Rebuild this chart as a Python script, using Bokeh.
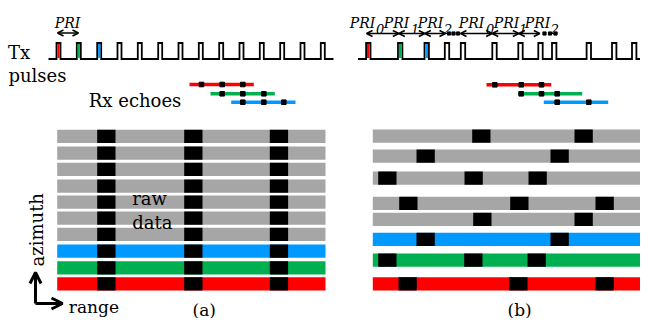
from bokeh.plotting import figure
from bokeh.models import Range1d, Arrow, OpenHead, ColumnDataSource
from bokeh.embed import file_html
from bokeh.resources import INLINE
from bokeh.core.properties import value

RED, GREEN, BLUE, GRAY = "#FF0000", "#00B050", "#0099FF", "#A6A6A6"
FONT = "DejaVu Serif"

# ---------------- data (diagram geometry, reference pixel units) ----------------
# Tx pulse trains
a_pulse_x = [58, 78.3, 98.7, 119, 139.3, 159.7, 180, 200.3, 220.7, 241, 261.3, 281.7, 302, 322.3]
a_pulse_colors = [RED, GREEN, BLUE]
a_train_span = [48, 333]
b_pulse_x = [367.8, 399.7, 426.2, 446.5, 462.5, 494, 520, 540, 553.7, 588.3, 613.7, 633.7, 650.5]
b_pulse_colors = [RED, GREEN, BLUE]
b_train_span = [357.5, 660]
pulse_top, pulse_base = 42.5, 58.5

# PRI arrows
a_pri_arrow = [(57, 78)]
b_pri_arrows = [(366, 398.3), (398.3, 424.3), (424.3, 445), (460, 491.7), (491.7, 518.3), (518.3, 539.3)]
b_pri_dots = [448.5, 453, 457.5, 544, 549.5, 555]
b_pri_label_x = [349.3, 383.3, 417.3, 458.3, 493.3, 524.3]
b_pri_sub = ["0", "1", "2", "0", "1", "2"]
b_pri_sub_x = [375.5, 410.5, 443.5, 485.5, 518.5, 550.3]

# Rx echoes
a_echo_lines = {"x0": [189, 210, 230.7], "x1": [253.3, 274.3, 295], "y": [84, 93.3, 101.7]}
a_echo_dots = [[201, 221.7, 242.3], [221.7, 242.3, 263.3], [242.3, 263.3, 283.3]]
b_echo_lines = {"x0": [486, 517.7, 543.3], "x1": [550.7, 581.7, 607.7], "y": [84.3, 93.3, 101.7]}
b_echo_dots = [[494.3, 520.7, 541], [520.7, 541, 556.7], [556.7, 588.3]]
echo_colors = [RED, GREEN, BLUE]

# raw data rows
row_h = 13.3
blk_w = 18.3
a_rows_top = [129.3, 146, 162.3, 179, 195, 211, 227.3, 244, 260.7, 276.7]
a_rows_color = [GRAY] * 7 + [BLUE, GREEN, RED]
a_rows_span = [56.7, 325]
a_blocks = [96.7, 183.7, 269.3]

b_rows_top = [129, 149, 171, 196.3, 212.3, 232.3, 253, 276.7]
b_rows_color = [GRAY] * 5 + [BLUE, GREEN, RED]
b_rows_span = [372.3, 641.7]
b_blocks = [[471.7, 574], [416, 550], [377.7, 464, 528], [398.7, 509.7, 595],
            [472.7, 574], [416, 550], [377.7, 463.7, 527], [398, 508.7, 595]]

panel_labels = ["(a)", "(b)"]
panel_label_x = [192, 507]

# ---------------- figure ----------------
p = figure(width=640, height=318, x_range=Range1d(0, 640), y_range=Range1d(318, 0),
           output_backend="svg", toolbar_location=None, min_border=0,
           x_axis_location=None, y_axis_location=None)
p.grid.visible = False
p.outline_line_color = None
p.background_fill_color = "white"


def pulse_train(centers, colors, span, w=2.0):
    xs, ys = [span[0]], [pulse_base]
    for c in centers:
        xs += [c - w, c - w, c + w, c + w]
        ys += [pulse_base, pulse_top, pulse_top, pulse_base]
    xs.append(span[1]); ys.append(pulse_base)
    n = len(colors)
    p.line(xs, ys, line_color="black", line_width=1.8, line_join="miter")
    p.quad(left=[c - w + 0.9 for c in centers[:n]], right=[c + w - 0.9 for c in centers[:n]],
           top=[pulse_top + 0.9] * n, bottom=[pulse_base - 0.9] * n, fill_color=colors, line_color=None)


pulse_train(a_pulse_x, a_pulse_colors, a_train_span)
pulse_train(b_pulse_x, b_pulse_colors, b_train_span, w=2.2)


def arrows(pairs, y):
    src = ColumnDataSource(dict(x0=[a for a, b in pairs], x1=[b for a, b in pairs], y=[y] * len(pairs)))
    p.add_layout(Arrow(start=OpenHead(size=6, line_width=1.5), end=OpenHead(size=6, line_width=1.5),
                       x_start="x0", y_start="y", x_end="x1", y_end="y",
                       line_width=1.5, source=src))


arrows(a_pri_arrow, 32.5)
arrows(b_pri_arrows, 33)
p.scatter(b_pri_dots, [33] * len(b_pri_dots), marker="square", size=3.2, color="black")

p.text(x=[54.3], y=[22.7], text=["PRI"], text_font=value(FONT), text_font_style="italic",
       text_font_size="14px", text_baseline="alphabetic", text_align="left")
p.text(x=b_pri_label_x, y=[22] * 6, text=["PRI"] * 6, text_font=value(FONT), text_font_style="italic",
       text_font_size="14px", text_baseline="alphabetic", text_align="left")
p.text(x=b_pri_sub_x, y=[28.5] * 6, text=b_pri_sub, text_font=value(FONT), text_font_style="italic",
       text_font_size="13px", text_baseline="alphabetic", text_align="left")

# Rx echoes
for lines, dots in ((a_echo_lines, a_echo_dots), (b_echo_lines, b_echo_dots)):
    p.segment(x0=lines["x0"], x1=lines["x1"], y0=lines["y"], y1=lines["y"],
              line_color=echo_colors, line_width=3.6)
    for d, y in zip(dots, lines["y"]):
        p.scatter(d, [y] * len(d), marker="square", size=4.6, color="black")

# raw data rows
for tops, cols, span, blocks in ((a_rows_top, a_rows_color, a_rows_span, [a_blocks] * len(a_rows_top)),
                                 (b_rows_top, b_rows_color, b_rows_span, b_blocks)):
    p.quad(left=[span[0]] * len(tops), right=[span[1]] * len(tops), top=tops,
           bottom=[t + row_h for t in tops], fill_color=cols, line_color=None)
    bl, bt = [], []
    for t, bs in zip(tops, blocks):
        for b in bs:
            bl.append(b); bt.append(t)
    p.quad(left=bl, right=[b + blk_w for b in bl], top=bt, bottom=[t + row_h for t in bt],
           fill_color="black", line_color=None)

# labels
txt = dict(text_font=value(FONT), text_baseline="alphabetic", text_align="left", text_color="black")
p.text(x=[7.5], y=[51.5], text=["Tx"], text_font_size="18px", **txt)
p.text(x=[8], y=[74.5], text=["pulses"], text_font_size="18px", **txt)
p.text(x=[88.3], y=[100], text=["Rx echoes"], text_font_size="18px", **txt)
p.text(x=[131.7, 131.7], y=[198.3, 221.5], text=["raw", "data"], text_font_size="18px", **txt)
p.text(x=[68.3], y=[306], text=["range"], text_font_size="17px", **txt)
p.text(x=[36.5], y=[266], text=["azimuth"], angle=[1.5708], text_font_size="18px",
       text_font=value(FONT), text_baseline="middle", text_align="left", text_color="black")
p.text(x=panel_label_x, y=[309] * len(panel_labels), text=panel_labels, text_font_size="17px", **txt)

# azimuth / range axes arrows
axsrc = ColumnDataSource(dict(x0=[35, 35], y0=[303, 303], x1=[35, 62], y1=[272, 303]))
p.add_layout(Arrow(end=OpenHead(size=11, line_width=3), x_start="x0", y_start="y0",
                   x_end="x1", y_end="y1", line_width=3, source=axsrc))

open("out.html", "w").write(file_html(p, INLINE))
